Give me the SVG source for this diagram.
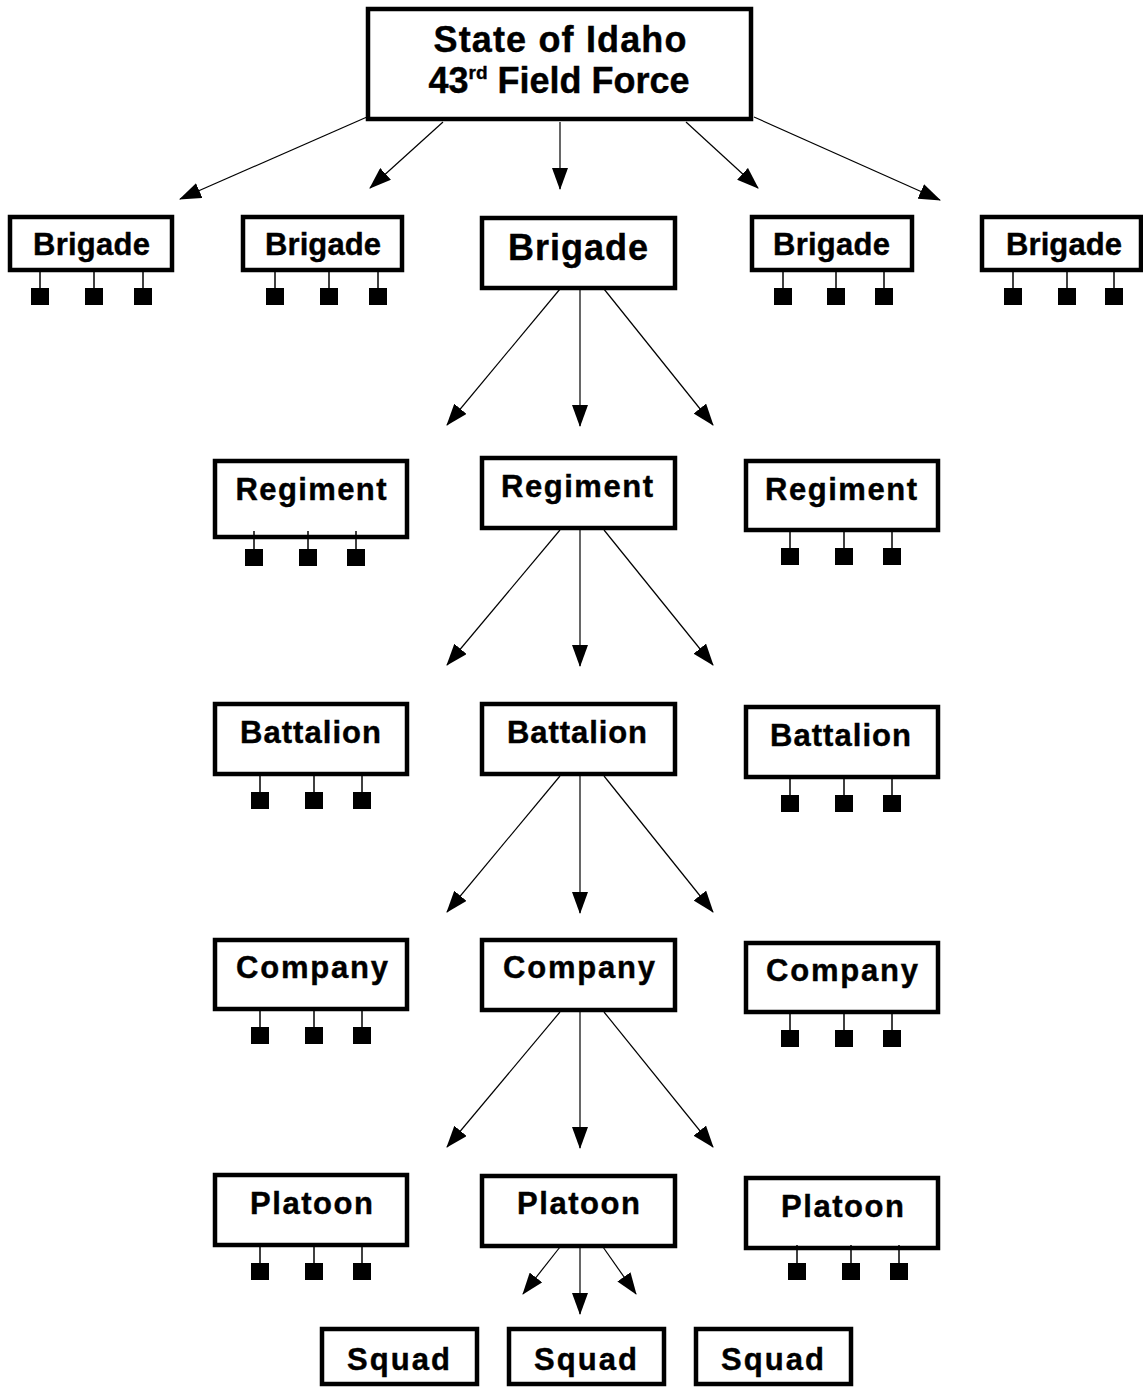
<svg xmlns="http://www.w3.org/2000/svg" width="1143" height="1387" viewBox="0 0 1143 1387">
<style>
.box{fill:#fff;stroke:#000;stroke-width:4.5}
.t{font-family:"Liberation Sans",Arial,sans-serif;font-weight:bold;fill:#000;text-anchor:middle;font-size:31px;stroke:#000;stroke-width:0.4}
.big{font-size:36px}
.sq{fill:#000}
.stem{stroke:#000;stroke-width:1.5}
.c{stroke:#000;stroke-width:1.2;fill:none;marker-end:url(#ah)}
</style>
<defs>
<marker id="ah" markerUnits="userSpaceOnUse" markerWidth="22" markerHeight="16" refX="21" refY="8" orient="auto">
<path d="M0,0 L22,8 L0,16 Z" fill="#000"/>
</marker>
<g id="tri">
<line class="stem" x1="0" y1="0" x2="0" y2="20"/>
<rect class="sq" x="-9" y="18" width="18" height="17"/>
</g>
</defs>
<rect width="1143" height="1387" fill="#fff"/>

<g id="connectors">
<line class="c" x1="367" y1="117" x2="180" y2="199"/>
<line class="c" x1="443" y1="122" x2="370" y2="188"/>
<line class="c" x1="560" y1="122" x2="560" y2="189"/>
<line class="c" x1="686" y1="122" x2="758" y2="188"/>
<line class="c" x1="754" y1="117" x2="940" y2="200"/>

<line class="c" x1="560" y1="289" x2="447" y2="425"/>
<line class="c" x1="580" y1="289" x2="580" y2="426"/>
<line class="c" x1="604" y1="289" x2="713" y2="425"/>

<line class="c" x1="560" y1="530" x2="447" y2="665"/>
<line class="c" x1="580" y1="530" x2="580" y2="666"/>
<line class="c" x1="604" y1="530" x2="713" y2="665"/>

<line class="c" x1="560" y1="776" x2="447" y2="912"/>
<line class="c" x1="580" y1="776" x2="580" y2="913"/>
<line class="c" x1="604" y1="776" x2="713" y2="912"/>

<line class="c" x1="560" y1="1012" x2="447" y2="1147"/>
<line class="c" x1="580" y1="1012" x2="580" y2="1148"/>
<line class="c" x1="604" y1="1012" x2="713" y2="1147"/>

<line class="c" x1="560" y1="1247" x2="523" y2="1294"/>
<line class="c" x1="580" y1="1247" x2="580" y2="1314"/>
<line class="c" x1="603" y1="1247" x2="636" y2="1294"/>
</g>

<g id="top">
<rect class="box" x="368" y="9" width="383" height="110" stroke-width="5"/>
<text class="t big" x="560" y="52" textLength="253" lengthAdjust="spacing">State of Idaho</text>
<text class="t big" x="559" y="93" font-size="37">43<tspan font-size="19" dy="-14">rd</tspan><tspan dy="14"> Field Force</tspan></text>
</g>

<g id="brigade1">
<rect class="box" x="10" y="217" width="162" height="53"/>
<text class="t" x="91.5" y="255" textLength="117" lengthAdjust="spacing">Brigade</text>
<use href="#tri" x="40" y="270"/><use href="#tri" x="94" y="270"/><use href="#tri" x="143" y="270"/>
</g>
<g id="brigade2">
<rect class="box" x="243" y="217" width="159" height="53"/>
<text class="t" x="323" y="255" textLength="116" lengthAdjust="spacing">Brigade</text>
<use href="#tri" x="275" y="270"/><use href="#tri" x="329" y="270"/><use href="#tri" x="378" y="270"/>
</g>
<g id="brigade3">
<rect class="box" x="482" y="218" width="193" height="70"/>
<text class="t big" x="578" y="260" textLength="140" lengthAdjust="spacing">Brigade</text>
</g>
<g id="brigade4">
<rect class="box" x="752" y="217" width="160" height="53"/>
<text class="t" x="831.5" y="255" textLength="117" lengthAdjust="spacing">Brigade</text>
<use href="#tri" x="783" y="270"/><use href="#tri" x="836" y="270"/><use href="#tri" x="884" y="270"/>
</g>
<g id="brigade5">
<rect class="box" x="982" y="217" width="159" height="53"/>
<text class="t" x="1064" y="255" textLength="116" lengthAdjust="spacing">Brigade</text>
<use href="#tri" x="1013" y="270"/><use href="#tri" x="1067" y="270"/><use href="#tri" x="1114" y="270"/>
</g>

<g id="regiment1">
<rect class="box" x="215" y="461" width="192" height="76"/>
<text class="t" x="311" y="500" textLength="151" lengthAdjust="spacing">Regiment</text>
<use href="#tri" x="254" y="531"/><use href="#tri" x="308" y="531"/><use href="#tri" x="356" y="531"/>
</g>
<g id="regiment2">
<rect class="box" x="482" y="458" width="193" height="70"/>
<text class="t" x="577" y="497" textLength="152" lengthAdjust="spacing">Regiment</text>
</g>
<g id="regiment3">
<rect class="box" x="746" y="461" width="192" height="69"/>
<text class="t" x="841" y="500" textLength="152" lengthAdjust="spacing">Regiment</text>
<use href="#tri" x="790" y="530"/><use href="#tri" x="844" y="530"/><use href="#tri" x="892" y="530"/>
</g>

<g id="battalion1">
<rect class="box" x="215" y="704" width="192" height="70"/>
<text class="t" x="310.5" y="743" textLength="141" lengthAdjust="spacing">Battalion</text>
<use href="#tri" x="260" y="774"/><use href="#tri" x="314" y="774"/><use href="#tri" x="362" y="774"/>
</g>
<g id="battalion2">
<rect class="box" x="482" y="704" width="193" height="70"/>
<text class="t" x="577" y="743" textLength="140" lengthAdjust="spacing">Battalion</text>
</g>
<g id="battalion3">
<rect class="box" x="746" y="707" width="192" height="70"/>
<text class="t" x="840.5" y="746" textLength="141" lengthAdjust="spacing">Battalion</text>
<use href="#tri" x="790" y="777"/><use href="#tri" x="844" y="777"/><use href="#tri" x="892" y="777"/>
</g>

<g id="company1">
<rect class="box" x="215" y="940" width="192" height="69"/>
<text class="t" x="312" y="978" textLength="152" lengthAdjust="spacing">Company</text>
<use href="#tri" x="260" y="1009"/><use href="#tri" x="314" y="1009"/><use href="#tri" x="362" y="1009"/>
</g>
<g id="company2">
<rect class="box" x="482" y="940" width="193" height="70"/>
<text class="t" x="579" y="978" textLength="152" lengthAdjust="spacing">Company</text>
</g>
<g id="company3">
<rect class="box" x="746" y="943" width="192" height="69"/>
<text class="t" x="842" y="981" textLength="152" lengthAdjust="spacing">Company</text>
<use href="#tri" x="790" y="1012"/><use href="#tri" x="844" y="1012"/><use href="#tri" x="892" y="1012"/>
</g>

<g id="platoon1">
<rect class="box" x="215" y="1175" width="192" height="70"/>
<text class="t" x="311.5" y="1214" textLength="123" lengthAdjust="spacing">Platoon</text>
<use href="#tri" x="260" y="1245"/><use href="#tri" x="314" y="1245"/><use href="#tri" x="362" y="1245"/>
</g>
<g id="platoon2">
<rect class="box" x="482" y="1176" width="193" height="70"/>
<text class="t" x="578.5" y="1214" textLength="123" lengthAdjust="spacing">Platoon</text>
</g>
<g id="platoon3">
<rect class="box" x="746" y="1178" width="192" height="70"/>
<text class="t" x="842.5" y="1217" textLength="123" lengthAdjust="spacing">Platoon</text>
<use href="#tri" x="797" y="1245"/><use href="#tri" x="851" y="1245"/><use href="#tri" x="899" y="1245"/>
</g>

<g id="squad1">
<rect class="box" x="322" y="1329" width="155" height="55" stroke-width="5"/>
<text class="t" x="398.5" y="1370" textLength="103" lengthAdjust="spacing">Squad</text>
</g>
<g id="squad2">
<rect class="box" x="509" y="1329" width="155" height="55" stroke-width="5"/>
<text class="t" x="585.5" y="1370" textLength="103" lengthAdjust="spacing">Squad</text>
</g>
<g id="squad3">
<rect class="box" x="696" y="1329" width="155" height="55" stroke-width="5"/>
<text class="t" x="772.5" y="1370" textLength="103" lengthAdjust="spacing">Squad</text>
</g>
</svg>
